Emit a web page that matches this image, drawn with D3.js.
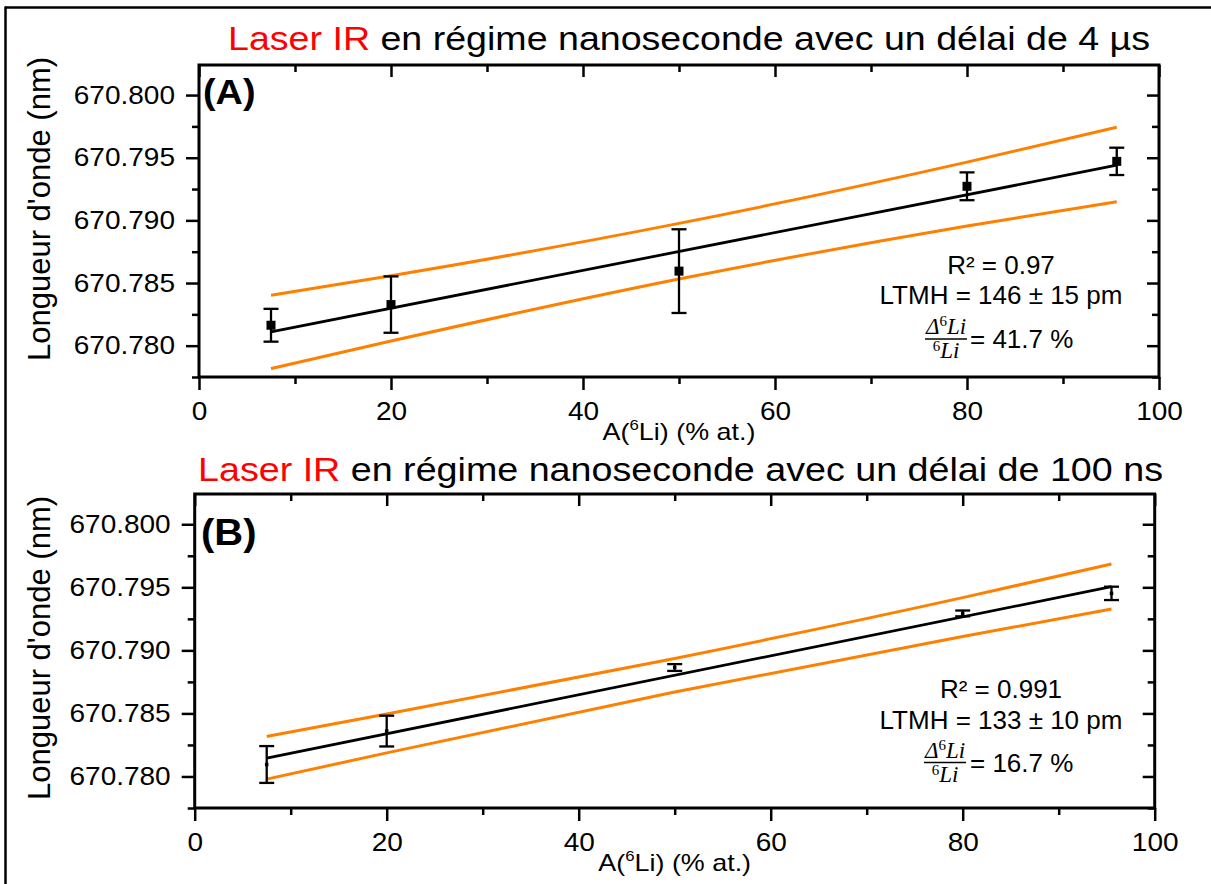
<!DOCTYPE html>
<html><head><meta charset="utf-8">
<script src="https://cdn.jsdelivr.net/npm/d3@7"></script>
<style>
body{margin:0;background:#fff}
svg{display:block}
text{font-family:"Liberation Sans",Arial,sans-serif;fill:#000}
</style>
</head><body>
<svg id="chart" width="1211" height="884"></svg>
<script>
// ---------- data ----------
const xDomain = [0, 100];
const yDomain = [670.7775, 670.8024];
const xTicksMajor = [0, 20, 40, 60, 80, 100];
const xTicksMinor = [10, 30, 50, 70, 90];
const yTicksMajor = [670.780, 670.785, 670.790, 670.795, 670.800];
const yTicksMinor = [670.7775, 670.7825, 670.7875, 670.7925, 670.7975];

const titleRed = "Laser IR";
const titleA = " en régime nanoseconde avec un délai de 4 µs";
const titleB = " en régime nanoseconde avec un délai de 100 ns";
const yLabel = "Longueur d'onde (nm)";

// Panel A (4 µs)
const xA = [7.5, 20, 50, 80, 95.6];
const yA = [670.78163, 670.78328, 670.78595, 670.79272, 670.79471];
const errA = [0.00131, 0.00225, 0.00334, 0.00111, 0.00109];
const fitXA = [7.5, 95.6];
const fitYA = [670.7811, 670.7944];
const bandXA = [7.5, 20, 50, 80, 95.6];
const upperA = [670.78402, 670.78558, 670.78976, 670.79465, 670.79743];
const lowerA = [670.77817, 670.78037, 670.78532, 670.78955, 670.79148];
const annotA = ["R² = 0.97", "LTMH = 146 ± 15 pm", "= 41.7 %"];

// Panel B (100 ns)
const xB = [7.5, 20, 50, 80, 95.5];
const yB = [670.78095, 670.7836, 670.78864, 670.79293, 670.79452];
const errB = [0.00146, 0.00122, 0.00027, 0.00023, 0.00053];
const fitXB = [7.5, 95.5];
const fitYB = [670.78146, 670.79505];
const bandXB = [7.5, 20, 50, 80, 95.5];
const upperB = [670.78318, 670.78495, 670.78936, 670.79418, 670.79685];
const lowerB = [670.77979, 670.78187, 670.78670, 670.79110, 670.79328];
const annotB = ["R² = 0.991", "LTMH = 133 ± 10 pm", "= 16.7 %"];

// ---------- drawing ----------
const svg = d3.select("#chart");
const ORANGE = "#FF8000";
const K = 1.12; // horizontal glyph stretch of the original picture

function stretch(sel, k) {
  sel.each(function () {
    const L = this.getComputedTextLength();
    if (L > 0) d3.select(this).attr("textLength", L * k).attr("lengthAdjust", "spacingAndGlyphs");
  });
}

// outer figure border (top and left only visible)
svg.append("line").attr("x1", 5).attr("x2", 1211).attr("y1", 7.5).attr("y2", 7.5)
  .attr("stroke", "#000").attr("stroke-width", 2.5);
svg.append("line").attr("x1", 5.5).attr("x2", 5.5).attr("y1", 6.5).attr("y2", 884)
  .attr("stroke", "#000").attr("stroke-width", 2.5);

const panels = [
  { left: 199, right: 1159, top: 65, bottom: 377,
    x: xA, y: yA, err: errA, fitX: fitXA, fitY: fitYA, bandX: bandXA, upper: upperA, lower: lowerA,
    marker: 9, title: titleA, titleX: 228, titleY: 49.5, titleW: 922,
    tag: "(A)", tagX: 203, tagY: 104, tagSize: 35,
    ylabY: 209, xlabY: 440,
    annot: annotA, annotCx: 1001, l1: 274, l2: 304, barY: 339, barX1: 925, barX2: 967, eqX: 970 },
  { left: 194.7, right: 1154.7, top: 494, bottom: 808,
    x: xB, y: yB, err: errB, fitX: fitXB, fitY: fitYB, bandX: bandXB, upper: upperB, lower: lowerB,
    marker: 3.5, title: titleB, titleX: 198, titleY: 481, titleW: 965,
    tag: "(B)", tagX: 201, tagY: 545, tagSize: 37,
    ylabY: 648, xlabY: 871,
    annot: annotB, annotCx: 1001, l1: 698, l2: 729, barY: 762.5, barX1: 924, barX2: 966, eqX: 970 }
];

panels.forEach(p => {
  const x = d3.scaleLinear().domain(xDomain).range([p.left, p.right]);
  const y = d3.scaleLinear().domain(yDomain).range([p.bottom, p.top]);
  const g = svg.append("g");

  // title
  const t = g.append("text").attr("x", p.titleX).attr("y", p.titleY)
    .attr("font-size", 34).attr("textLength", p.titleW).attr("lengthAdjust", "spacingAndGlyphs");
  t.append("tspan").attr("fill", "#FF0000").style("fill", "#FF0000").text(titleRed);
  t.append("tspan").text(p.title);

  // confidence bands
  const curve = d3.line().x(d => x(d[0])).y(d => y(d[1])).curve(d3.curveMonotoneX);
  [p.upper, p.lower].forEach(arr => {
    g.append("path").datum(d3.zip(p.bandX, arr)).attr("d", curve)
      .attr("fill", "none").attr("stroke", ORANGE).attr("stroke-width", 3);
  });

  // fit line
  g.append("path").datum(d3.zip(p.fitX, p.fitY))
    .attr("d", d3.line().x(d => x(d[0])).y(d => y(d[1])))
    .attr("fill", "none").attr("stroke", "#000").attr("stroke-width", 2.8);

  // error bars
  const pts = d3.zip(p.x, p.y, p.err);
  const eb = g.append("g").attr("stroke", "#000").attr("stroke-width", 2.3);
  eb.selectAll("line.v").data(pts).join("line").attr("class", "v")
    .attr("x1", d => x(d[0])).attr("x2", d => x(d[0]))
    .attr("y1", d => y(d[1] - d[2])).attr("y2", d => y(d[1] + d[2]));
  eb.selectAll("line.t").data(pts).join("line").attr("class", "t")
    .attr("x1", d => x(d[0]) - 7.5).attr("x2", d => x(d[0]) + 7.5)
    .attr("y1", d => y(d[1] + d[2])).attr("y2", d => y(d[1] + d[2]));
  eb.selectAll("line.b").data(pts).join("line").attr("class", "b")
    .attr("x1", d => x(d[0]) - 7.5).attr("x2", d => x(d[0]) + 7.5)
    .attr("y1", d => y(d[1] - d[2])).attr("y2", d => y(d[1] - d[2]));
  g.selectAll("rect.m").data(pts).join("rect").attr("class", "m")
    .attr("x", d => x(d[0]) - p.marker / 2).attr("y", d => y(d[1]) - p.marker / 2)
    .attr("width", p.marker).attr("height", p.marker).attr("fill", "#000");

  // axes
  function styleAxis(a) {
    a.select(".domain").remove();
    a.selectAll(".tick line").attr("stroke", "#000").attr("stroke-width", 2.5);
    a.selectAll(".tick text").attr("font-size", 25).attr("fill", "#000")
      .style("font-family", '"Liberation Sans", Arial, sans-serif');
  }
  const ax1 = g.append("g").attr("transform", `translate(${p.left},0)`)
    .call(d3.axisLeft(y).tickValues(yTicksMajor).tickSize(13).tickSizeOuter(0).tickPadding(11).tickFormat(d3.format(".3f")));
  styleAxis(ax1); stretch(ax1.selectAll(".tick text"), K);
  const ax2 = g.append("g").attr("transform", `translate(${p.left},0)`)
    .call(d3.axisLeft(y).tickValues(yTicksMinor).tickSize(7).tickSizeOuter(0).tickFormat(""));
  styleAxis(ax2);
  const ax3 = g.append("g").attr("transform", `translate(0,${p.bottom})`)
    .call(d3.axisBottom(x).tickValues(xTicksMajor).tickSize(13).tickSizeOuter(0).tickPadding(12).tickFormat(d3.format("d")));
  styleAxis(ax3); stretch(ax3.selectAll(".tick text"), K);
  const ax4 = g.append("g").attr("transform", `translate(0,${p.bottom})`)
    .call(d3.axisBottom(x).tickValues(xTicksMinor).tickSize(7).tickSizeOuter(0).tickFormat(""));
  styleAxis(ax4);
  // mirrored inward ticks top / right
  const ax5 = g.append("g").attr("transform", `translate(0,${p.top})`)
    .call(d3.axisTop(x).tickValues(xTicksMajor).tickSize(-12).tickSizeOuter(0).tickFormat(""));
  styleAxis(ax5);
  const ax6 = g.append("g").attr("transform", `translate(0,${p.top})`)
    .call(d3.axisTop(x).tickValues(xTicksMinor).tickSize(-7).tickSizeOuter(0).tickFormat(""));
  styleAxis(ax6);
  const ax7 = g.append("g").attr("transform", `translate(${p.right},0)`)
    .call(d3.axisRight(y).tickValues(yTicksMajor).tickSize(-12).tickSizeOuter(0).tickFormat(""));
  styleAxis(ax7);
  const ax8 = g.append("g").attr("transform", `translate(${p.right},0)`)
    .call(d3.axisRight(y).tickValues(yTicksMinor).tickSize(-7).tickSizeOuter(0).tickFormat(""));
  styleAxis(ax8);

  // frame
  g.append("rect").attr("x", p.left).attr("y", p.top)
    .attr("width", p.right - p.left).attr("height", p.bottom - p.top)
    .attr("fill", "none").attr("stroke", "#000").attr("stroke-width", 3);

  // panel tag
  const tag = g.append("text").attr("x", p.tagX).attr("y", p.tagY)
    .attr("font-size", p.tagSize).attr("font-weight", "bold").text(p.tag);
  stretch(tag, 1.08);

  // axis titles
  const xl = g.append("text").attr("x", (p.left + p.right) / 2).attr("y", p.xlabY)
    .attr("text-anchor", "middle").attr("font-size", 24);
  xl.append("tspan").text("A(");
  xl.append("tspan").attr("font-size", 15).attr("dy", -10).text("6");
  xl.append("tspan").attr("dy", 10).text("Li) (% at.)");
  stretch(xl, K);

  g.append("text").attr("transform", `translate(50,${p.ylabY}) rotate(-90)`)
    .attr("text-anchor", "middle").attr("font-size", 31).text(yLabel);

  // annotations
  g.append("text").attr("x", p.annotCx).attr("y", p.l1)
    .attr("text-anchor", "middle").attr("font-size", 26).text(p.annot[0]);
  g.append("text").attr("x", p.annotCx).attr("y", p.l2)
    .attr("text-anchor", "middle").attr("font-size", 26).text(p.annot[1]);
  const fx = (p.barX1 + p.barX2) / 2;
  g.append("line").attr("x1", p.barX1).attr("x2", p.barX2).attr("y1", p.barY).attr("y2", p.barY)
    .attr("stroke", "#000").attr("stroke-width", 1.5);
  const num = g.append("text").attr("x", fx).attr("y", p.barY - 5).attr("text-anchor", "middle")
    .attr("font-size", 23).style("font-family", '"Liberation Serif", "DejaVu Serif", serif');
  num.append("tspan").attr("font-style", "italic").text("Δ");
  num.append("tspan").attr("font-size", 15).attr("dy", -8).text("6");
  num.append("tspan").attr("font-style", "italic").attr("dy", 8).text("Li");
  const den = g.append("text").attr("x", fx).attr("y", p.barY + 19).attr("text-anchor", "middle")
    .attr("font-size", 23).style("font-family", '"Liberation Serif", "DejaVu Serif", serif');
  den.append("tspan").attr("font-size", 15).attr("dy", -7).text("6");
  den.append("tspan").attr("font-style", "italic").attr("dy", 7).text("Li");
  g.append("text").attr("x", p.eqX).attr("y", p.barY + 9)
    .attr("font-size", 26).text(p.annot[2]);
});
</script>
</body></html>
